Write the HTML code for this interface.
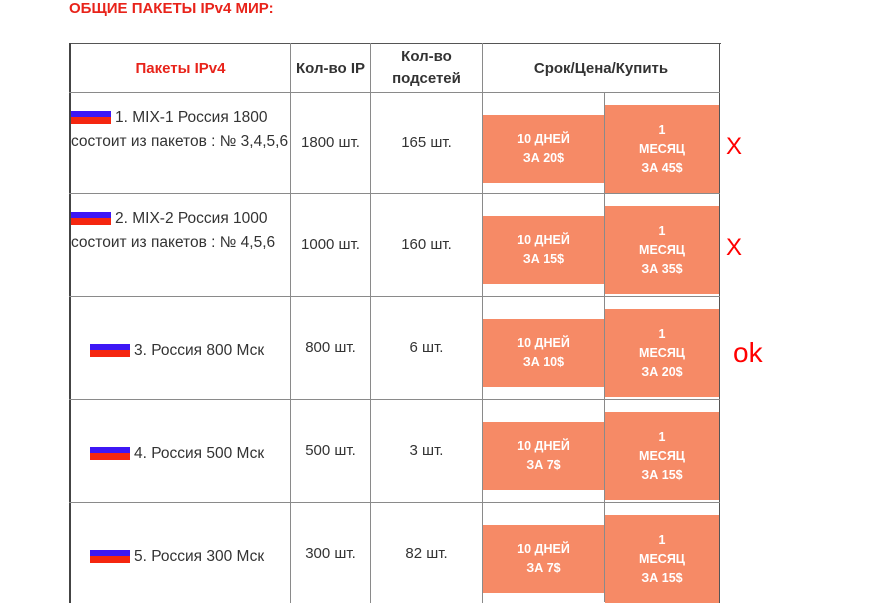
<!DOCTYPE html>
<html><head><meta charset="utf-8"><style>
body{margin:0;width:878px;height:597px;overflow:hidden;background:#fff;font-family:"Liberation Sans","DejaVu Sans",sans-serif;color:#333;position:relative}
.a{position:absolute}
.hl{position:absolute;height:1px;background:#8a8a8a}
.vl{position:absolute;width:1px;background:#8a8a8a}
.c{position:absolute;display:flex;align-items:center;justify-content:center;text-align:center;font-size:15px}
.btn{position:absolute;background:#f68a66;color:#fff;font-size:12.5px;font-weight:bold;display:flex;align-items:center;justify-content:center;text-align:center;line-height:19px}
.flag{display:inline-block;width:40px;height:16px;vertical-align:-2px;background:linear-gradient(#fff 0 3px,#3d17f5 3px 9px,#f5260f 9px 16px);margin-right:4px}
.mark{position:absolute;color:#f00;font-size:26px}
</style></head><body>
<div class="a" style="left:69px;top:0px;font-size:15px;font-weight:bold;color:#e8231a">ОБЩИЕ ПАКЕТЫ IPv4 МИР:</div>
<div>
<div class="hl" style="left:69px;top:43px;width:652px;background:#555"></div>
<div class="a" style="left:69px;top:43px;width:2px;height:560px;background:#444"></div>
<div class="vl" style="left:719px;top:43px;height:560px;background:#555"></div>
<div class="vl" style="left:290px;top:43px;height:560px"></div>
<div class="vl" style="left:370px;top:43px;height:560px"></div>
<div class="vl" style="left:482px;top:43px;height:560px"></div>
<div class="vl" style="left:604px;top:92px;height:510px"></div>
<div class="hl" style="left:69px;top:92px;width:651px"></div>
<div class="hl" style="left:69px;top:193px;width:651px"></div>
<div class="hl" style="left:69px;top:296px;width:651px"></div>
<div class="hl" style="left:69px;top:399px;width:651px"></div>
<div class="hl" style="left:69px;top:502px;width:651px"></div>
<div class="c" style="left:71px;top:44px;width:219px;height:48px;font-weight:bold;color:#e8231a">Пакеты IPv4</div>
<div class="c" style="left:291px;top:44px;width:79px;height:48px;font-weight:bold">Кол-во IP</div>
<div class="c" style="left:371px;top:44px;width:111px;height:48px;font-weight:bold;line-height:22px">Кол-во<br>подсетей</div>
<div class="c" style="left:483px;top:44px;width:236px;height:48px;font-weight:bold">Срок/Цена/Купить</div>
</div>
<div id="rows"></div>
<script>
const names=["1. MIX-1 Россия 1800 состоит из пакетов : № 3,4,5,6","2. MIX-2 Россия 1000 состоит из пакетов : № 4,5,6","3. Россия 800 Мск","4. Россия 500 Мск","5. Россия 300 Мск"];
const ips=["1800 шт.","1000 шт.","800 шт.","500 шт.","300 шт."];
const subnets=["165 шт.","160 шт.","6 шт.","3 шт.","82 шт."];
const price10=["20$","15$","10$","7$","7$"];
const priceMonth=["45$","35$","20$","15$","15$"];
const marks=["X","X","ok","",""];
const tops=[92,193,296,399,502],bots=[193,296,399,502,620];
const R=document.getElementById('rows');
names.forEach((n,i)=>{
 const t=tops[i],b=bots[i];
 const c1=document.createElement('div');
 
 
 c1.className='a';
 if(i<2){c1.style.cssText=`left:71px;top:${t+14}px;width:219px;font-size:15.5px;line-height:24px`;}
 else{c1.style.cssText=`left:90px;top:${t+43}px;width:200px;font-size:15.5px;line-height:24px`;}
 c1.innerHTML='<span class="flag"></span>'+n;
 R.appendChild(c1);
 const c2=document.createElement('div');
 
 
 c2.className='c';c2.style.cssText=`left:291px;top:${t}px;width:79px;height:${Math.min(b,t+103)-t}px`;c2.textContent=ips[i];R.appendChild(c2);
 const c3=document.createElement('div');
 
 
 c3.className='c';c3.style.cssText=`left:371px;top:${t}px;width:111px;height:${Math.min(b,t+103)-t}px`;c3.textContent=subnets[i];R.appendChild(c3);
 const b1=document.createElement('div');
 
 
 b1.className='btn';b1.style.cssText=`left:483px;top:${t+23}px;width:121px;height:68px`;b1.innerHTML='10 ДНЕЙ<br>ЗА '+price10[i];R.appendChild(b1);
 const b2=document.createElement('div');
 
 
 b2.className='btn';b2.style.cssText=`left:605px;top:${t+13}px;width:114px;height:88px`;b2.innerHTML='1<br>МЕСЯЦ<br>ЗА '+priceMonth[i];R.appendChild(b2);
 if(marks[i]){const m=document.createElement('div');
 
 
 m.className='mark';m.style.cssText=`left:${marks[i]=='ok'?733:726}px;top:${t+41}px;font-size:${marks[i]=='ok'?28:24}px`;m.textContent=marks[i];R.appendChild(m);}
});
</script>
</body></html>
